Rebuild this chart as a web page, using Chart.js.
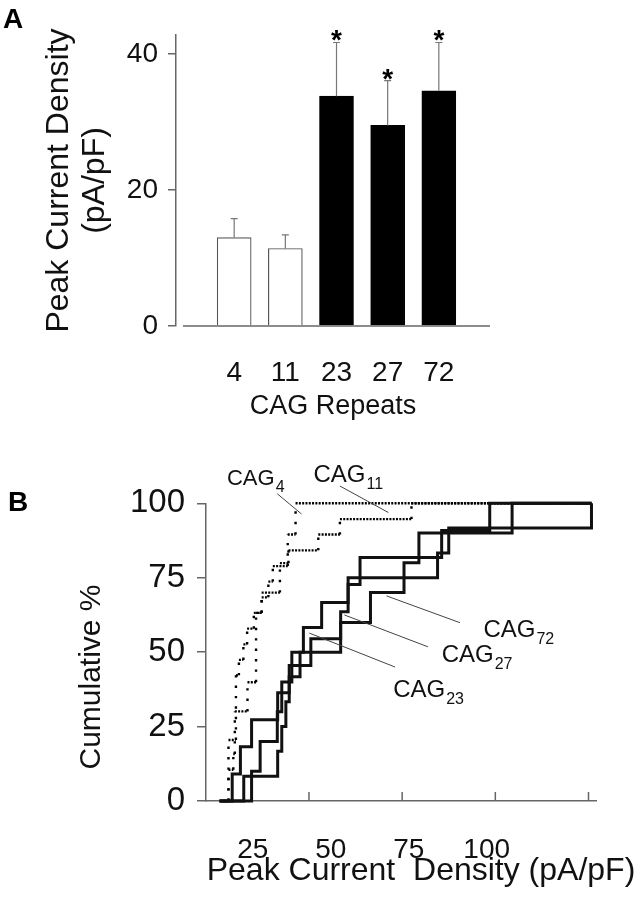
<!DOCTYPE html>
<html><head><meta charset="utf-8">
<script src="https://cdn.jsdelivr.net/npm/chart.js@4.4.0/dist/chart.umd.min.js"></script>
<style>
html,body{margin:0;padding:0;background:#fff;}
#wrap{position:relative;width:639px;height:899px;overflow:hidden;background:#fff;}
#ca{position:absolute;left:0;top:0;}
#cb{position:absolute;left:0;top:430px;}
</style></head><body>
<div id="wrap"><canvas id="ca" width="639" height="430"></canvas><canvas id="cb" width="639" height="469"></canvas></div>
<script>
// ---------- DATA ----------
// Panel A
const cagRepeats = ['4', '11', '23', '27', '72'];
const meanDensity = [13.0, 11.4, 33.8, 29.5, 34.6];
const semDensity = [2.8, 2.0, 7.9, 6.6, 7.1];
const significant = [false, false, true, true, true];
const yTicksA = [0, 20, 40];

// Panel B: cumulative distributions (x = peak current density pA/pF, y = cumulative %)
const cag4X  = [2, 3.4, 5.4, 6.2, 7.4, 8.4, 10.2, 12.3, 14.1, 15.3, 19.3, 21.4];
const cag4Y  = [0, 20.5, 42.2, 47.4, 52.6, 57.9, 63.2, 68.4, 73.7, 78.9, 89.5, 100];
const cag11X = [2, 3.4, 4.7, 5.1, 8.5, 10.8, 12.3, 17.2, 19.5, 27.5, 33.3, 52.5];
const cag11Y = [0, 10.5, 15.8, 30.1, 39.9, 63.2, 70, 79.9, 84.2, 89.5, 94.7, 100];
const cag23X = [1, 7.5, 16.6, 17.7, 18.8, 19.7, 22.6, 23.5, 28.4, 35.5, 59.5, 62.5, 100.8];
const cag23Y = [0, 8.3, 16.7, 25, 33.3, 41.7, 50, 58.3, 66.7, 75, 83.3, 91.7, 100];
const cag27X = [1, 4.4, 6.6, 9.6, 16.6, 19.7, 25.5, 33.5, 35.5, 38.7, 60.6, 73.5];
const cag27Y = [0, 9.1, 18.2, 27.3, 36.4, 45.5, 54.5, 63.6, 72.7, 81.8, 90.9, 100];
const cag72X = [1, 9.6, 11.9, 16.5, 17.7, 20.4, 33.5, 41.5, 50.5, 54.5, 79.5];
const cag72Y = [0, 10, 20, 30, 40, 50, 60, 70, 80, 90, 100];
const cdfEnd = 100.8;
const xTicksB = [25, 50, 75, 100];
const yTicksB = [0, 25, 50, 75, 100];

// ---------- STYLE / LAYOUT ----------
const FONT = '"Liberation Sans", Arial, Helvetica, sans-serif';
const AXIS = '#666';
const INK = '#111';

function stepPoints(xs, ys, xEnd) {
  const pts = [{x: xs[0], y: ys[0]}];
  for (let i = 1; i < xs.length; i++) {
    pts.push({x: xs[i], y: ys[i - 1]});
    pts.push({x: xs[i], y: ys[i]});
  }
  if (xEnd !== undefined && xEnd > xs[xs.length - 1]) pts.push({x: xEnd, y: ys[ys.length - 1]});
  return pts;
}

// ---------- PANEL A ----------
const panelA = {
  id: 'panelA',
  afterDatasetsDraw(chart) {
    const {ctx, scales: {x, y}} = chart;
    ctx.save();
    ctx.strokeStyle = AXIS; ctx.lineWidth = 1.5;
    ctx.beginPath(); ctx.moveTo(x.getPixelForValue(0), y.getPixelForValue(0));
    ctx.lineTo(x.getPixelForValue(6), y.getPixelForValue(0)); ctx.stroke();
    ctx.strokeStyle = '#777'; ctx.lineWidth = 1.2;
    meanDensity.forEach((m, i) => {
      const cx = x.getPixelForValue(i + 1);
      const y0 = y.getPixelForValue(m);
      const y1 = y.getPixelForValue(m + semDensity[i]);
      ctx.beginPath(); ctx.moveTo(cx, y0); ctx.lineTo(cx, y1);
      ctx.moveTo(cx - 3.5, y1); ctx.lineTo(cx + 3.5, y1); ctx.stroke();
      if (significant[i]) {
        ctx.fillStyle = '#000'; ctx.font = 'bold 28px ' + FONT;
        ctx.textAlign = 'center'; ctx.textBaseline = 'alphabetic';
        ctx.fillText('*', cx, y1 + 7);
      }
    });
    ctx.fillStyle = '#000'; ctx.font = 'bold 28px ' + FONT;
    ctx.textAlign = 'left'; ctx.textBaseline = 'alphabetic';
    ctx.fillText('A', 3, 28);
    ctx.restore();
  }
};

new Chart(document.getElementById('ca'), {
  type: 'bar',
  data: {
    datasets: [{
      data: meanDensity.map((v, i) => ({x: i + 1, y: v})),
      backgroundColor: significant.map(s => s ? '#000' : '#fff'),
      borderColor: significant.map(s => s ? '#000' : '#555'),
      borderWidth: 1.2,
      barThickness: 34
    }]
  },
  options: {
    responsive: false, animation: false, devicePixelRatio: 1,
    layout: {padding: {left: 42, top: 35, right: 149, bottom: 0}},
    plugins: {legend: {display: false}, tooltip: {enabled: false}},
    scales: {
      x: {
        type: 'linear', min: -0.137, max: 6, offset: false,
        grid: {display: false, offset: false}, border: {display: false},
        afterBuildTicks: s => { s.ticks = cagRepeats.map((c, i) => ({value: i + 1})); },
        ticks: {callback: v => cagRepeats[v - 1] ?? '', font: {family: FONT, size: 28}, color: INK,
                padding: 22, maxRotation: 0, autoSkip: false},
        title: {display: true, text: 'CAG Repeats', font: {family: FONT, size: 27}, color: INK,
                padding: {top: 0, bottom: 7}},
        afterFit: s => { s.height = 104; }
      },
      y: {
        min: 0, max: 42.8,
        afterBuildTicks: s => { s.ticks = yTicksA.map(v => ({value: v})); },
        grid: {drawOnChartArea: false, drawTicks: true, tickLength: 8, color: AXIS, lineWidth: 1.5},
        border: {display: true, color: AXIS, width: 1.5},
        ticks: {font: {family: FONT, size: 28}, color: INK, padding: 10},
        title: {display: true, text: ['Peak Current Density', '(pA/pF)'],
                font: {family: FONT, size: 32, lineHeight: 1.1}, color: INK, padding: {top: 0, bottom: 0}},
        afterFit: s => { s.width = 134; }
      }
    }
  },
  plugins: [panelA]
});

// ---------- PANEL B ----------
const curveLabels = [
  {main: 'CAG', sub: '4',  size: 22, tx: 3.0,  ty: 106.2, l: [16.5, 103.2, 23.0, 96.4]},
  {main: 'CAG', sub: '11', size: 24, tx: 26.2, ty: 107.2, l: [33.3, 105.8, 46.3, 96.9]},
  {main: 'CAG', sub: '72', size: 24, tx: 71.8, ty: 55.2,  l: [45.8, 68.9, 65.5, 59.9]},
  {main: 'CAG', sub: '27', size: 24, tx: 60.6, ty: 46.8,  l: [34.5, 62.5, 56.9, 51.8]},
  {main: 'CAG', sub: '23', size: 24, tx: 47.6, ty: 35.0,  l: [25.1, 56.4, 48.1, 45.0]}
];

const panelB = {
  id: 'panelB',
  afterDraw(chart) {
    const {ctx, scales: {x, y}, chartArea} = chart;
    ctx.save();
    ctx.strokeStyle = AXIS; ctx.lineWidth = 1.5;
    xTicksB.forEach(v => {
      const px = x.getPixelForValue(v);
      ctx.beginPath(); ctx.moveTo(px, chartArea.bottom); ctx.lineTo(px, chartArea.bottom - 9); ctx.stroke();
    });
    ctx.strokeStyle = '#444'; ctx.lineWidth = 1;
    curveLabels.forEach(c => {
      ctx.beginPath();
      ctx.moveTo(x.getPixelForValue(c.l[0]), y.getPixelForValue(c.l[1]));
      ctx.lineTo(x.getPixelForValue(c.l[2]), y.getPixelForValue(c.l[3]));
      ctx.stroke();
      const px = x.getPixelForValue(c.tx), py = y.getPixelForValue(c.ty);
      ctx.fillStyle = INK; ctx.textAlign = 'left'; ctx.textBaseline = 'alphabetic';
      ctx.font = c.size + 'px ' + FONT;
      ctx.fillText(c.main, px, py);
      const w = ctx.measureText(c.main).width;
      ctx.font = '16px ' + FONT;
      ctx.fillText(c.sub, px + w + 1, py + 7);
    });
    ctx.fillStyle = INK;
    ctx.font = '32px ' + FONT; ctx.textAlign = 'center'; ctx.textBaseline = 'alphabetic';
    ctx.fillText('Peak Current  Density (pA/pF)', 421, 450);
    ctx.save();
    ctx.translate(92, 247); ctx.rotate(-Math.PI / 2);
    ctx.font = '30px ' + FONT; ctx.textBaseline = 'middle'; ctx.textAlign = 'center';
    ctx.fillText('Cumulative %', 0, 0);
    ctx.restore();
    ctx.fillStyle = '#000'; ctx.font = 'bold 28px ' + FONT; ctx.textAlign = 'left';
    ctx.fillText('B', 8, 81);
    ctx.restore();
  }
};

const dottedSeg = {
  borderDash: c => (Math.abs(c.p0.parsed.x - c.p1.parsed.x) < 1e-9 ? [2.4, 8] : [2, 1.3])
};
const solid = {borderColor: INK, borderWidth: 3, pointRadius: 0, fill: false, tension: 0, clip: false};
const dotted = {borderColor: '#000', borderWidth: 2.4, pointRadius: 0, fill: false, tension: 0, clip: false,
                borderCapStyle: 'butt', segment: dottedSeg};

new Chart(document.getElementById('cb'), {
  type: 'line',
  data: {
    datasets: [
      Object.assign({label: 'CAG23', data: stepPoints(cag23X, cag23Y, cdfEnd)}, solid),
      Object.assign({label: 'CAG27', data: stepPoints(cag27X, cag27Y, cdfEnd)}, solid),
      Object.assign({label: 'CAG72', data: stepPoints(cag72X, cag72Y, cdfEnd)}, solid),
      Object.assign({label: 'CAG4', data: stepPoints(cag4X, cag4Y, cdfEnd)}, dotted),
      Object.assign({label: 'CAG11', data: stepPoints(cag11X, cag11Y, cdfEnd)}, dotted)
    ]
  },
  options: {
    responsive: false, animation: false, devicePixelRatio: 1,
    layout: {padding: {left: 0, top: 73.3, right: 42.3, bottom: 0}},
    plugins: {legend: {display: false}, tooltip: {enabled: false}},
    scales: {
      x: {
        type: 'linear', position: 'bottom', min: -2.63, max: 102.2, weight: 0,
        grid: {display: false}, border: {display: true, color: AXIS, width: 1.5},
        ticks: {display: false},
        afterFit: s => { s.height = 0; }
      },
      xl: {
        type: 'linear', axis: 'x', position: 'bottom', min: 10.03, max: 135.26, weight: 1,
        grid: {display: false}, border: {display: false},
        afterBuildTicks: s => { s.ticks = xTicksB.map(v => ({value: v})); },
        ticks: {font: {family: FONT, size: 28}, color: INK, padding: 24, autoSkip: false, maxRotation: 0},
        afterFit: s => { s.height = 98; }
      },
      y: {
        min: 0, max: 100,
        afterBuildTicks: s => { s.ticks = yTicksB.map(v => ({value: v})); },
        grid: {drawOnChartArea: false, drawTicks: true, tickLength: 9, color: AXIS, lineWidth: 1.5},
        border: {display: true, color: AXIS, width: 1.5},
        ticks: {font: {family: FONT, size: 33}, color: INK, padding: 12},
        afterFit: s => { s.width = 206; }
      }
    }
  },
  plugins: [panelB]
});
</script>
</body></html>
